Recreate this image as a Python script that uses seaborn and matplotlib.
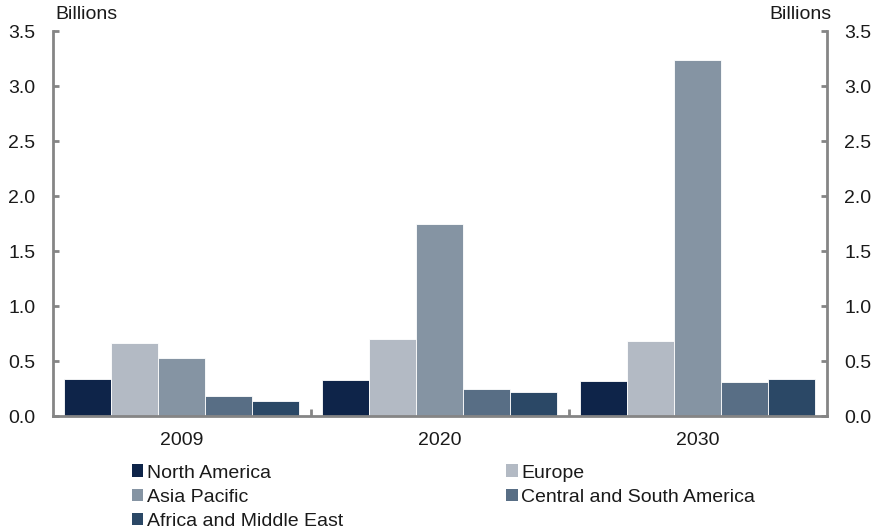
import matplotlib
matplotlib.use("Agg")
import matplotlib.pyplot as plt
from matplotlib.ticker import FixedLocator
import seaborn as sns
import pandas as pd

years = ["2009", "2020", "2030"]
regions = ["North America", "Europe", "Asia Pacific",
           "Central and South America", "Africa and Middle East"]
north_america = [0.335, 0.33, 0.318]
europe = [0.66, 0.70, 0.68]
asia_pacific = [0.525, 1.745, 3.234]
central_south_america = [0.18, 0.248, 0.312]
africa_middle_east = [0.136, 0.22, 0.336]
colors = ["#0E2449", "#B3BAC4", "#8594A3", "#586E85", "#2B4866"]
yticks = [0.0, 0.5, 1.0, 1.5, 2.0, 2.5, 3.0, 3.5]

series = [north_america, europe, asia_pacific, central_south_america, africa_middle_east]
rows = []
for region, vals in zip(regions, series):
    for year, v in zip(years, vals):
        rows.append({"year": year, "region": region, "value": v})
df = pd.DataFrame(rows)

sns.set_theme(style="white")
plt.rcParams["font.family"] = ["Liberation Sans", "DejaVu Sans"]
txt = "#1a1a1a"
axis_gray = "#858585"
fs = 14

fig = plt.figure(figsize=(8.73, 5.30), dpi=100)
ax = fig.add_axes([0.0604, 0.215, 0.8866, 0.7265])

sns.barplot(data=df, x="year", y="value", hue="region", order=years,
            hue_order=regions, palette=colors, saturation=1, width=0.91,
            gap=0, edgecolor="white", linewidth=0.6, ax=ax, legend=True)

ax.set_xlim(-0.5, 2.5)
ax.set_ylim(0, 3.5)
ax.set_xlabel("")
ax.set_ylabel("")

ax.set_yticks(yticks)
ax.set_yticklabels([f"{t:.1f}" for t in yticks])
ax.tick_params(axis="y", which="major", direction="in", length=4, width=2,
               color=axis_gray, labelsize=fs, labelcolor=txt,
               left=True, right=True, labelleft=True, labelright=True, pad=12.5)

# year labels centred under each group, small separator ticks between groups
ax.set_xticks([0, 1, 2])
ax.set_xticklabels(years)
ax.tick_params(axis="x", which="major", length=0, labelsize=fs,
               labelcolor=txt, pad=11.5)
ax.xaxis.set_minor_locator(FixedLocator([0.5, 1.5]))
ax.tick_params(axis="x", which="minor", direction="in", length=5, width=2,
               color=axis_gray, bottom=True)

for side in ["left", "right", "bottom"]:
    ax.spines[side].set_visible(True)
    ax.spines[side].set_color(axis_gray)
    ax.spines[side].set_linewidth(2)
ax.spines["top"].set_visible(False)

fig.text(0.063, 0.972, "Billions", fontsize=fs, color=txt, va="center", ha="left")
fig.text(0.952, 0.972, "Billions", fontsize=fs, color=txt, va="center", ha="right")

handles, labels = ax.get_legend_handles_labels()
ax.get_legend().remove()
order = [0, 2, 4, 1, 3]
leg = fig.legend([handles[i] for i in order], [labels[i] for i in order],
                 loc="upper left", bbox_to_anchor=(0.1509, 0.1236), ncol=2,
                 frameon=False, fontsize=fs, handlelength=0.6,
                 handleheight=0.6, handletextpad=0.175, columnspacing=8.4,
                 labelspacing=0.37, borderaxespad=0, borderpad=0)
for t in leg.get_texts():
    t.set_color(txt)
for h in leg.legend_handles:
    h.set_edgecolor("none")

fig.savefig("out.png", dpi=100, facecolor="white")
